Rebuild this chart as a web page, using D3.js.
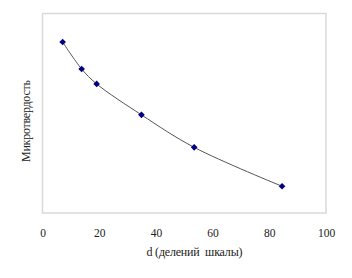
<!DOCTYPE html>
<html>
<head>
<meta charset="utf-8">
<script src="https://cdn.jsdelivr.net/npm/d3@7"></script>
<style>
  body { margin: 0; background: #fff; }
  svg text { font-family: "Liberation Serif", "Times New Roman", serif !important; }
</style>
</head>
<body>
<svg id="chart" width="352" height="278" font-family="Liberation Serif"></svg>
<script>
// data (y has no scale, relative units)
const dValues = [7.1, 13.8, 19.1, 34.9, 53.5, 84.5];
const hardness = [85.7, 72.2, 64.7, 49.2, 32.9, 13.4];
const xTicks = [0, 20, 40, 60, 80, 100];

const svg = d3.select("#chart");
const box = { left: 42.5, top: 13.5, right: 326, bottom: 213 };

const x = d3.scaleLinear().domain([0, 100]).range([box.left, box.right]);
const y = d3.scaleLinear().domain([0, 100]).range([box.bottom, box.top]);

// plot frame
svg.append("rect")
    .attr("x", box.left)
    .attr("y", box.top)
    .attr("width", box.right - box.left)
    .attr("height", box.bottom - box.top)
    .style("fill", "none")
    .style("stroke", "#d9d9d9")
    .style("stroke-width", 1.5);

// x axis labels, no tick marks
const xAxis = d3.axisBottom(x).tickValues(xTicks).tickSize(0).tickPadding(0);
const gx = svg.append("g")
    .attr("transform", `translate(0, 237)`)
    .call(xAxis)
    .attr("font-family", "Liberation Serif")
    .attr("font-size", 11.5);
gx.select(".domain").remove();
gx.selectAll("text")
    .attr("dy", 0)
    .attr("fill", "#222");

svg.append("text")
    .attr("x", 194.5)
    .attr("y", 255.5)
    .attr("text-anchor", "middle")
    .attr("textLength", 96)
    .attr("font-size", 12)
    .attr("fill", "#222")
    .style("white-space", "pre")
    .text("d (делений  шкалы)");

svg.append("text")
    .attr("transform", "translate(30, 121) rotate(-90)")
    .attr("text-anchor", "middle")
    .attr("textLength", 82)
    .attr("font-size", 12)
    .attr("fill", "#222")
    .text("Микротвердость");

const pts = dValues.map((d, i) => [d, hardness[i]]);

const line = d3.line()
    .x(d => x(d[0]))
    .y(d => y(d[1]))
    .curve(d3.curveCatmullRom.alpha(0.5));

svg.append("path")
    .datum(pts)
    .attr("d", line)
    .style("fill", "none")
    .style("stroke", "#555")
    .style("stroke-width", 1);

svg.selectAll(".pt")
    .data(pts)
    .enter()
    .append("path")
    .attr("class", "pt")
    .attr("transform", d => `translate(${x(d[0])}, ${y(d[1])})`)
    .attr("d", d3.symbol().type(d3.symbolDiamond2).size(28))
    .style("fill", "#000080");
</script>
</body>
</html>
